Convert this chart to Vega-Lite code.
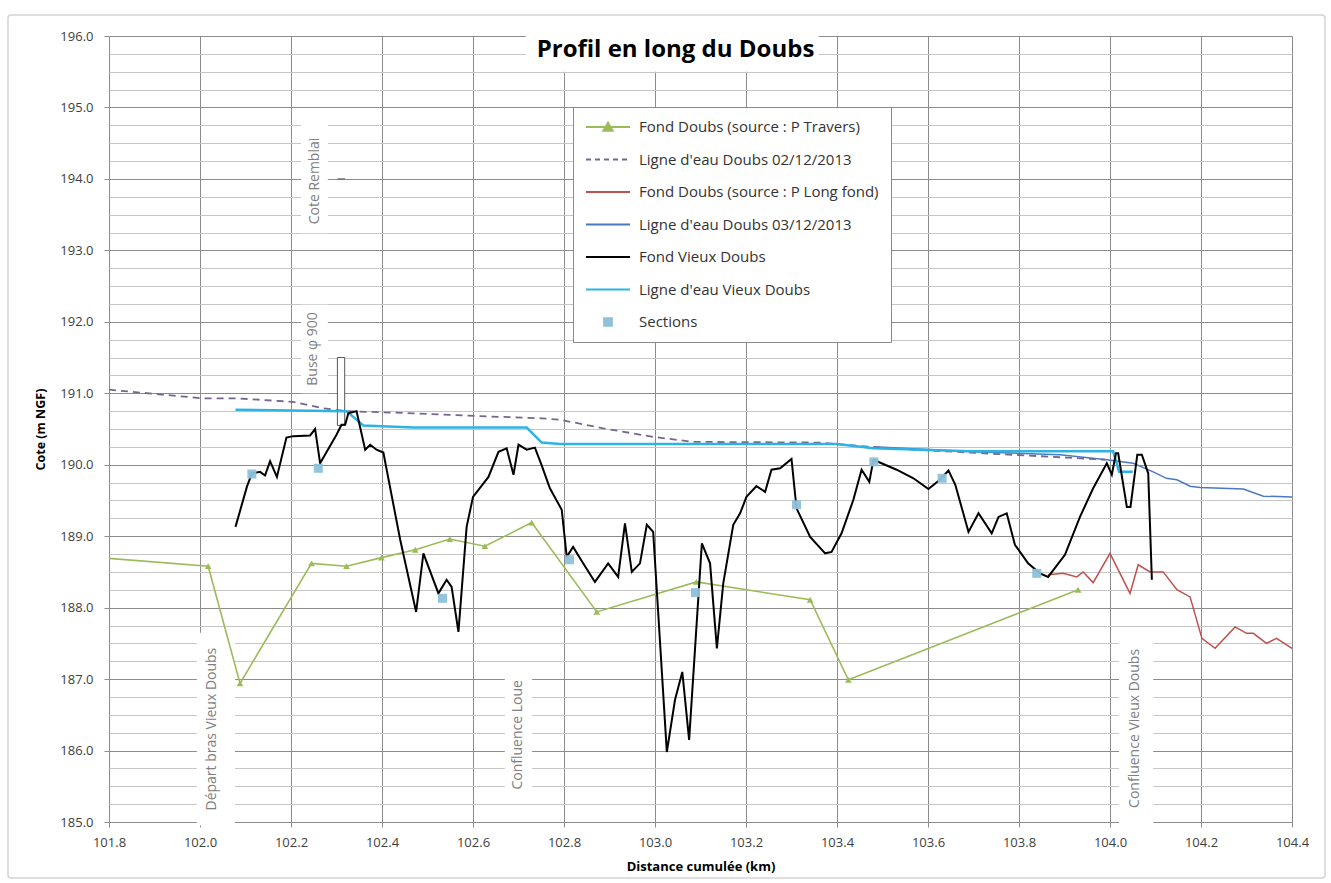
{
  "$schema": "https://vega.github.io/schema/vega-lite/v6.json",
  "width": 1183,
  "height": 786,
  "autosize": {"type": "none"},
  "padding": {"left": 109, "top": 36, "right": 39, "bottom": 61},
  "background": "white",
  "config": {"font": "Open Sans", "view": {"stroke": null}},
  "title": {"text": "Profil en long du Doubs", "font": "Open Sans", "fontSize": 24, "fontWeight": "bold", "color": "#000000", "anchor": "middle", "orient": "top", "offset": -48, "dx": -25, "zindex": 1},
  "datasets": {
    "lines": [
      {"series": "Fond Doubs (source : P Travers)", "d": 101.8, "z": 188.69},
      {"series": "Fond Doubs (source : P Travers)", "d": 102.018, "z": 188.58},
      {"series": "Fond Doubs (source : P Travers)", "d": 102.088, "z": 186.94},
      {"series": "Fond Doubs (source : P Travers)", "d": 102.245, "z": 188.62},
      {"series": "Fond Doubs (source : P Travers)", "d": 102.322, "z": 188.58},
      {"series": "Fond Doubs (source : P Travers)", "d": 102.399, "z": 188.7},
      {"series": "Fond Doubs (source : P Travers)", "d": 102.473, "z": 188.81},
      {"series": "Fond Doubs (source : P Travers)", "d": 102.549, "z": 188.96},
      {"series": "Fond Doubs (source : P Travers)", "d": 102.626, "z": 188.86},
      {"series": "Fond Doubs (source : P Travers)", "d": 102.729, "z": 189.19},
      {"series": "Fond Doubs (source : P Travers)", "d": 102.872, "z": 187.94},
      {"series": "Fond Doubs (source : P Travers)", "d": 103.091, "z": 188.36},
      {"series": "Fond Doubs (source : P Travers)", "d": 103.341, "z": 188.11},
      {"series": "Fond Doubs (source : P Travers)", "d": 103.425, "z": 186.99},
      {"series": "Fond Doubs (source : P Travers)", "d": 103.93, "z": 188.25},

      {"series": "Ligne d'eau Doubs 02/12/2013", "d": 101.8, "z": 191.05},
      {"series": "Ligne d'eau Doubs 02/12/2013", "d": 102.004, "z": 190.93},
      {"series": "Ligne d'eau Doubs 02/12/2013", "d": 102.078, "z": 190.93},
      {"series": "Ligne d'eau Doubs 02/12/2013", "d": 102.205, "z": 190.88},
      {"series": "Ligne d'eau Doubs 02/12/2013", "d": 102.271, "z": 190.79},
      {"series": "Ligne d'eau Doubs 02/12/2013", "d": 102.322, "z": 190.75},
      {"series": "Ligne d'eau Doubs 02/12/2013", "d": 102.469, "z": 190.72},
      {"series": "Ligne d'eau Doubs 02/12/2013", "d": 102.615, "z": 190.68},
      {"series": "Ligne d'eau Doubs 02/12/2013", "d": 102.751, "z": 190.65},
      {"series": "Ligne d'eau Doubs 02/12/2013", "d": 102.791, "z": 190.63},
      {"series": "Ligne d'eau Doubs 02/12/2013", "d": 102.886, "z": 190.51},
      {"series": "Ligne d'eau Doubs 02/12/2013", "d": 102.996, "z": 190.39},
      {"series": "Ligne d'eau Doubs 02/12/2013", "d": 103.084, "z": 190.32},
      {"series": "Ligne d'eau Doubs 02/12/2013", "d": 103.363, "z": 190.31},
      {"series": "Ligne d'eau Doubs 02/12/2013", "d": 103.509, "z": 190.23},
      {"series": "Ligne d'eau Doubs 02/12/2013", "d": 103.692, "z": 190.17},
      {"series": "Ligne d'eau Doubs 02/12/2013", "d": 103.905, "z": 190.1},
      {"series": "Ligne d'eau Doubs 02/12/2013", "d": 103.99, "z": 190.07},

      {"series": "Fond Doubs (source : P Long fond)", "d": 103.864, "z": 188.46},
      {"series": "Fond Doubs (source : P Long fond)", "d": 103.897, "z": 188.48},
      {"series": "Fond Doubs (source : P Long fond)", "d": 103.927, "z": 188.43},
      {"series": "Fond Doubs (source : P Long fond)", "d": 103.941, "z": 188.5},
      {"series": "Fond Doubs (source : P Long fond)", "d": 103.963, "z": 188.35},
      {"series": "Fond Doubs (source : P Long fond)", "d": 104.0, "z": 188.76},
      {"series": "Fond Doubs (source : P Long fond)", "d": 104.044, "z": 188.2},
      {"series": "Fond Doubs (source : P Long fond)", "d": 104.062, "z": 188.6},
      {"series": "Fond Doubs (source : P Long fond)", "d": 104.088, "z": 188.5},
      {"series": "Fond Doubs (source : P Long fond)", "d": 104.117, "z": 188.5},
      {"series": "Fond Doubs (source : P Long fond)", "d": 104.147, "z": 188.25},
      {"series": "Fond Doubs (source : P Long fond)", "d": 104.176, "z": 188.15},
      {"series": "Fond Doubs (source : P Long fond)", "d": 104.202, "z": 187.57},
      {"series": "Fond Doubs (source : P Long fond)", "d": 104.231, "z": 187.43},
      {"series": "Fond Doubs (source : P Long fond)", "d": 104.275, "z": 187.73},
      {"series": "Fond Doubs (source : P Long fond)", "d": 104.3, "z": 187.64},
      {"series": "Fond Doubs (source : P Long fond)", "d": 104.315, "z": 187.64},
      {"series": "Fond Doubs (source : P Long fond)", "d": 104.344, "z": 187.5},
      {"series": "Fond Doubs (source : P Long fond)", "d": 104.366, "z": 187.57},
      {"series": "Fond Doubs (source : P Long fond)", "d": 104.4, "z": 187.43},

      {"series": "Ligne d'eau Doubs 03/12/2013", "d": 103.48, "z": 190.25},
      {"series": "Ligne d'eau Doubs 03/12/2013", "d": 103.7, "z": 190.18},
      {"series": "Ligne d'eau Doubs 03/12/2013", "d": 103.89, "z": 190.14},
      {"series": "Ligne d'eau Doubs 03/12/2013", "d": 103.993, "z": 190.07},
      {"series": "Ligne d'eau Doubs 03/12/2013", "d": 104.051, "z": 190.02},
      {"series": "Ligne d'eau Doubs 03/12/2013", "d": 104.095, "z": 189.9},
      {"series": "Ligne d'eau Doubs 03/12/2013", "d": 104.124, "z": 189.81},
      {"series": "Ligne d'eau Doubs 03/12/2013", "d": 104.147, "z": 189.79},
      {"series": "Ligne d'eau Doubs 03/12/2013", "d": 104.176, "z": 189.7},
      {"series": "Ligne d'eau Doubs 03/12/2013", "d": 104.198, "z": 189.68},
      {"series": "Ligne d'eau Doubs 03/12/2013", "d": 104.293, "z": 189.66},
      {"series": "Ligne d'eau Doubs 03/12/2013", "d": 104.337, "z": 189.56},
      {"series": "Ligne d'eau Doubs 03/12/2013", "d": 104.4, "z": 189.55},

      {"series": "Fond Vieux Doubs", "d": 102.078, "z": 189.13},
      {"series": "Fond Vieux Doubs", "d": 102.103, "z": 189.69},
      {"series": "Fond Vieux Doubs", "d": 102.114, "z": 189.88},
      {"series": "Fond Vieux Doubs", "d": 102.132, "z": 189.9},
      {"series": "Fond Vieux Doubs", "d": 102.143, "z": 189.85},
      {"series": "Fond Vieux Doubs", "d": 102.154, "z": 190.05},
      {"series": "Fond Vieux Doubs", "d": 102.169, "z": 189.83},
      {"series": "Fond Vieux Doubs", "d": 102.19, "z": 190.38},
      {"series": "Fond Vieux Doubs", "d": 102.205, "z": 190.4},
      {"series": "Fond Vieux Doubs", "d": 102.242, "z": 190.41},
      {"series": "Fond Vieux Doubs", "d": 102.253, "z": 190.5},
      {"series": "Fond Vieux Doubs", "d": 102.264, "z": 190.02},
      {"series": "Fond Vieux Doubs", "d": 102.3, "z": 190.42},
      {"series": "Fond Vieux Doubs", "d": 102.311, "z": 190.56},
      {"series": "Fond Vieux Doubs", "d": 102.319, "z": 190.56},
      {"series": "Fond Vieux Doubs", "d": 102.326, "z": 190.72},
      {"series": "Fond Vieux Doubs", "d": 102.344, "z": 190.75},
      {"series": "Fond Vieux Doubs", "d": 102.363, "z": 190.21},
      {"series": "Fond Vieux Doubs", "d": 102.374, "z": 190.28},
      {"series": "Fond Vieux Doubs", "d": 102.388, "z": 190.21},
      {"series": "Fond Vieux Doubs", "d": 102.403, "z": 190.17},
      {"series": "Fond Vieux Doubs", "d": 102.44, "z": 188.95},
      {"series": "Fond Vieux Doubs", "d": 102.475, "z": 187.94},
      {"series": "Fond Vieux Doubs", "d": 102.491, "z": 188.76},
      {"series": "Fond Vieux Doubs", "d": 102.524, "z": 188.2},
      {"series": "Fond Vieux Doubs", "d": 102.542, "z": 188.39},
      {"series": "Fond Vieux Doubs", "d": 102.553, "z": 188.29},
      {"series": "Fond Vieux Doubs", "d": 102.568, "z": 187.66},
      {"series": "Fond Vieux Doubs", "d": 102.586, "z": 189.13},
      {"series": "Fond Vieux Doubs", "d": 102.6, "z": 189.55},
      {"series": "Fond Vieux Doubs", "d": 102.634, "z": 189.83},
      {"series": "Fond Vieux Doubs", "d": 102.656, "z": 190.18},
      {"series": "Fond Vieux Doubs", "d": 102.674, "z": 190.23},
      {"series": "Fond Vieux Doubs", "d": 102.689, "z": 189.86},
      {"series": "Fond Vieux Doubs", "d": 102.7, "z": 190.28},
      {"series": "Fond Vieux Doubs", "d": 102.718, "z": 190.21},
      {"series": "Fond Vieux Doubs", "d": 102.736, "z": 190.24},
      {"series": "Fond Vieux Doubs", "d": 102.751, "z": 189.99},
      {"series": "Fond Vieux Doubs", "d": 102.769, "z": 189.67},
      {"series": "Fond Vieux Doubs", "d": 102.795, "z": 189.37},
      {"series": "Fond Vieux Doubs", "d": 102.806, "z": 188.71},
      {"series": "Fond Vieux Doubs", "d": 102.82, "z": 188.85},
      {"series": "Fond Vieux Doubs", "d": 102.842, "z": 188.62},
      {"series": "Fond Vieux Doubs", "d": 102.868, "z": 188.36},
      {"series": "Fond Vieux Doubs", "d": 102.897, "z": 188.62},
      {"series": "Fond Vieux Doubs", "d": 102.919, "z": 188.43},
      {"series": "Fond Vieux Doubs", "d": 102.934, "z": 189.18},
      {"series": "Fond Vieux Doubs", "d": 102.949, "z": 188.5},
      {"series": "Fond Vieux Doubs", "d": 102.967, "z": 188.62},
      {"series": "Fond Vieux Doubs", "d": 102.982, "z": 189.16},
      {"series": "Fond Vieux Doubs", "d": 102.996, "z": 189.06},
      {"series": "Fond Vieux Doubs", "d": 103.026, "z": 185.98},
      {"series": "Fond Vieux Doubs", "d": 103.044, "z": 186.71},
      {"series": "Fond Vieux Doubs", "d": 103.06, "z": 187.1},
      {"series": "Fond Vieux Doubs", "d": 103.075, "z": 186.15},
      {"series": "Fond Vieux Doubs", "d": 103.103, "z": 188.9},
      {"series": "Fond Vieux Doubs", "d": 103.121, "z": 188.62},
      {"series": "Fond Vieux Doubs", "d": 103.136, "z": 187.43},
      {"series": "Fond Vieux Doubs", "d": 103.15, "z": 188.34},
      {"series": "Fond Vieux Doubs", "d": 103.172, "z": 189.16},
      {"series": "Fond Vieux Doubs", "d": 103.187, "z": 189.32},
      {"series": "Fond Vieux Doubs", "d": 103.201, "z": 189.55},
      {"series": "Fond Vieux Doubs", "d": 103.223, "z": 189.7},
      {"series": "Fond Vieux Doubs", "d": 103.242, "z": 189.62},
      {"series": "Fond Vieux Doubs", "d": 103.256, "z": 189.93},
      {"series": "Fond Vieux Doubs", "d": 103.275, "z": 189.95},
      {"series": "Fond Vieux Doubs", "d": 103.3, "z": 190.08},
      {"series": "Fond Vieux Doubs", "d": 103.311, "z": 189.39},
      {"series": "Fond Vieux Doubs", "d": 103.341, "z": 188.99},
      {"series": "Fond Vieux Doubs", "d": 103.374, "z": 188.76},
      {"series": "Fond Vieux Doubs", "d": 103.388, "z": 188.78},
      {"series": "Fond Vieux Doubs", "d": 103.41, "z": 189.04},
      {"series": "Fond Vieux Doubs", "d": 103.436, "z": 189.51},
      {"series": "Fond Vieux Doubs", "d": 103.454, "z": 189.93},
      {"series": "Fond Vieux Doubs", "d": 103.471, "z": 189.76},
      {"series": "Fond Vieux Doubs", "d": 103.48, "z": 190.07},
      {"series": "Fond Vieux Doubs", "d": 103.531, "z": 189.93},
      {"series": "Fond Vieux Doubs", "d": 103.568, "z": 189.81},
      {"series": "Fond Vieux Doubs", "d": 103.601, "z": 189.66},
      {"series": "Fond Vieux Doubs", "d": 103.626, "z": 189.79},
      {"series": "Fond Vieux Doubs", "d": 103.645, "z": 189.92},
      {"series": "Fond Vieux Doubs", "d": 103.66, "z": 189.72},
      {"series": "Fond Vieux Doubs", "d": 103.689, "z": 189.06},
      {"series": "Fond Vieux Doubs", "d": 103.711, "z": 189.32},
      {"series": "Fond Vieux Doubs", "d": 103.74, "z": 189.04},
      {"series": "Fond Vieux Doubs", "d": 103.755, "z": 189.27},
      {"series": "Fond Vieux Doubs", "d": 103.773, "z": 189.32},
      {"series": "Fond Vieux Doubs", "d": 103.791, "z": 188.88},
      {"series": "Fond Vieux Doubs", "d": 103.82, "z": 188.62},
      {"series": "Fond Vieux Doubs", "d": 103.846, "z": 188.48},
      {"series": "Fond Vieux Doubs", "d": 103.864, "z": 188.43},
      {"series": "Fond Vieux Doubs", "d": 103.901, "z": 188.74},
      {"series": "Fond Vieux Doubs", "d": 103.934, "z": 189.27},
      {"series": "Fond Vieux Doubs", "d": 103.963, "z": 189.67},
      {"series": "Fond Vieux Doubs", "d": 103.993, "z": 190.02},
      {"series": "Fond Vieux Doubs", "d": 104.004, "z": 189.86},
      {"series": "Fond Vieux Doubs", "d": 104.013, "z": 190.16},
      {"series": "Fond Vieux Doubs", "d": 104.018, "z": 190.16},
      {"series": "Fond Vieux Doubs", "d": 104.037, "z": 189.41},
      {"series": "Fond Vieux Doubs", "d": 104.045, "z": 189.41},
      {"series": "Fond Vieux Doubs", "d": 104.06, "z": 190.14},
      {"series": "Fond Vieux Doubs", "d": 104.07, "z": 190.14},
      {"series": "Fond Vieux Doubs", "d": 104.084, "z": 189.88},
      {"series": "Fond Vieux Doubs", "d": 104.092, "z": 188.39},

      {"series": "Ligne d'eau Vieux Doubs", "d": 102.078, "z": 190.77},
      {"series": "Ligne d'eau Vieux Doubs", "d": 102.322, "z": 190.75},
      {"series": "Ligne d'eau Vieux Doubs", "d": 102.359, "z": 190.55},
      {"series": "Ligne d'eau Vieux Doubs", "d": 102.469, "z": 190.52},
      {"series": "Ligne d'eau Vieux Doubs", "d": 102.718, "z": 190.52},
      {"series": "Ligne d'eau Vieux Doubs", "d": 102.751, "z": 190.31},
      {"series": "Ligne d'eau Vieux Doubs", "d": 102.791, "z": 190.29},
      {"series": "Ligne d'eau Vieux Doubs", "d": 103.399, "z": 190.29},
      {"series": "Ligne d'eau Vieux Doubs", "d": 103.48, "z": 190.23},
      {"series": "Ligne d'eau Vieux Doubs", "d": 103.692, "z": 190.19},
      {"series": "Ligne d'eau Vieux Doubs", "d": 104.007, "z": 190.19},
      {"series": "Ligne d'eau Vieux Doubs", "d": 104.02, "z": 189.9},
      {"series": "Ligne d'eau Vieux Doubs", "d": 104.05, "z": 189.9}
    ],
    "sections": [
      {"series": "Sections", "d": 102.114, "z": 189.87},
      {"series": "Sections", "d": 102.26, "z": 189.95},
      {"series": "Sections", "d": 102.533, "z": 188.13},
      {"series": "Sections", "d": 102.812, "z": 188.67},
      {"series": "Sections", "d": 103.089, "z": 188.21},
      {"series": "Sections", "d": 103.311, "z": 189.44},
      {"series": "Sections", "d": 103.481, "z": 190.04},
      {"series": "Sections", "d": 103.631, "z": 189.81},
      {"series": "Sections", "d": 103.839, "z": 188.48}
    ],
    "events": [
      {"d": 102.08},
      {"d": 102.75},
      {"d": 104.1}
    ],
    "frame": [
      {"d": 101.578, "d2": 104.4725, "z": 184.215, "z2": 196.294}
    ],
    "boxes": [
      {"d": 101.993, "d2": 102.077, "z": 184.95, "z2": 187.65},
      {"d": 102.67, "d2": 102.73, "z": 185.3, "z2": 187.2},
      {"d": 104.02, "d2": 104.095, "z": 184.95, "z2": 187.65},
      {"d": 102.222, "d2": 102.281, "z": 193.24, "z2": 194.78},
      {"d": 102.222, "d2": 102.281, "z": 191.0, "z2": 192.24},
      {"d": 102.716, "d2": 103.36, "z": 195.5, "z2": 196.22}
    ],
    "labels": [
      {"label": "Départ bras Vieux Doubs", "d": 102.026, "z": 186.3},
      {"label": "Confluence Loue", "d": 102.699, "z": 186.22},
      {"label": "Confluence Vieux Doubs", "d": 104.055, "z": 186.31},
      {"label": "Cote Remblai", "d": 102.253, "z": 193.97},
      {"label": "Buse φ 900", "d": 102.249, "z": 191.62}
    ],
    "buse": [
      {"d": 102.302, "d2": 102.318, "z": 190.55, "z2": 191.5}
    ],
    "remblai": [
      {"d": 102.302, "d2": 102.319, "z": 194.0}
    ]
  },
  "encoding": {
    "x": {
      "field": "d", "type": "quantitative",
      "scale": {"domain": [101.8, 104.4], "nice": false, "zero": false},
      "axis": {
        "values": [101.8, 102, 102.2, 102.4, 102.6, 102.8, 103, 103.2, 103.4, 103.6, 103.8, 104, 104.2, 104.4],
        "format": ".1f", "labelFlush": false, "labelOverlap": false,
        "grid": true, "gridColor": "#8c8c8c", "gridWidth": 1,
        "domain": false, "tickSize": 5, "tickColor": "#8c8c8c",
        "labelFont": "Open Sans", "labelFontSize": 13, "labelColor": "#404040", "labelPadding": 9,
        "title": "Distance cumulée (km)", "titleFont": "Open Sans", "titleFontSize": 13, "titleFontWeight": "bold", "titleColor": "#000000", "titlePadding": 11
      }
    },
    "y": {
      "field": "z", "type": "quantitative",
      "scale": {"domain": [185, 196], "nice": false, "zero": false},
      "axis": {
        "values": [185, 185.25, 185.5, 185.75, 186, 186.25, 186.5, 186.75, 187, 187.25, 187.5, 187.75, 188, 188.25, 188.5, 188.75, 189, 189.25, 189.5, 189.75, 190, 190.25, 190.5, 190.75, 191, 191.25, 191.5, 191.75, 192, 192.25, 192.5, 192.75, 193, 193.25, 193.5, 193.75, 194, 194.25, 194.5, 194.75, 195, 195.25, 195.5, 195.75, 196],
        "labelExpr": "datum.value % 1 === 0 ? format(datum.value, '.1f') : ''",
        "labelFlush": false, "labelOverlap": false,
        "grid": true,
        "gridColor": {"condition": {"test": "datum.value % 1 === 0", "value": "#8c8c8c"}, "value": "#c6c6c6"},
        "gridWidth": 1,
        "domain": false, "tickSize": 5, "tickColor": "#8c8c8c",
        "tickOpacity": {"condition": {"test": "datum.value % 1 === 0", "value": 1}, "value": 0},
        "labelFont": "Open Sans", "labelFontSize": 13, "labelColor": "#404040", "labelPadding": 11,
        "title": "Cote (m NGF)", "titleFont": "Open Sans", "titleFontSize": 12.5, "titleFontWeight": "bold", "titleColor": "#000000", "titlePadding": 12
      }
    }
  },
  "layer": [
    {
      "data": {"name": "frame"},
      "mark": {"type": "rect", "filled": false, "stroke": "#d4d4d4", "strokeWidth": 1.5, "cornerRadius": 3},
      "encoding": {
        "x": {"field": "d", "type": "quantitative"},
        "x2": {"field": "d2"},
        "y": {"field": "z", "type": "quantitative"},
        "y2": {"field": "z2"}
      }
    },
    {
      "data": {"name": "events"},
      "mark": {"type": "rule", "color": "#3a3a3a", "strokeWidth": 1.6},
      "encoding": {"x": {"field": "d", "type": "quantitative"}, "y": {"datum": 185}, "y2": {"datum": 196}}
    },
    {
      "data": {"name": "boxes"},
      "mark": {"type": "rect", "fill": "white", "stroke": null},
      "encoding": {
        "x": {"field": "d", "type": "quantitative"},
        "x2": {"field": "d2"},
        "y": {"field": "z", "type": "quantitative"},
        "y2": {"field": "z2"}
      }
    },
    {
      "data": {"name": "buse"},
      "mark": {"type": "rect", "fill": "white", "stroke": "#555555", "strokeWidth": 1},
      "encoding": {
        "x": {"field": "d", "type": "quantitative"},
        "x2": {"field": "d2"},
        "y": {"field": "z", "type": "quantitative"},
        "y2": {"field": "z2"}
      }
    },
    {
      "data": {"name": "remblai"},
      "mark": {"type": "rule", "color": "#555555", "strokeWidth": 1},
      "encoding": {
        "x": {"field": "d", "type": "quantitative"},
        "x2": {"field": "d2"},
        "y": {"field": "z", "type": "quantitative"}
      }
    },
    {
      "data": {"name": "labels"},
      "mark": {"type": "text", "angle": 270, "align": "center", "baseline": "middle", "font": "Open Sans", "fontSize": 14, "color": "#808080"},
      "encoding": {"text": {"field": "label", "type": "nominal"}}
    },
    {
      "data": {"name": "lines"},
      "transform": [{"filter": "datum.series === 'Fond Doubs (source : P Travers)'"}],
      "mark": {"type": "line", "strokeWidth": 1.6},
      "encoding": {
        "color": {
          "field": "series", "type": "nominal",
          "scale": {
            "domain": ["Fond Doubs (source : P Travers)", "Ligne d'eau Doubs 02/12/2013", "Fond Doubs (source : P Long fond)", "Ligne d'eau Doubs 03/12/2013", "Fond Vieux Doubs", "Ligne d'eau Vieux Doubs", "Sections"],
            "range": ["#9BBB59", "#76668F", "#C0504D", "#4A78C2", "#000000", "#2DB3E3", "#8EC1DA"]
          },
          "legend": {
            "orient": "none", "legendX": 464, "legendY": 71, "title": null,
            "fillColor": "white", "strokeColor": "#8a8a8a", "padding": 12,
            "symbolType": "stroke", "symbolSize": 1936, "symbolStrokeWidth": 1.8,
            "clipHeight": 16, "rowPadding": 16.5,
            "labelFont": "Open Sans", "labelFontSize": 15, "labelColor": "#333333", "labelOffset": 8, "labelLimit": 400,
            "encode": {
              "symbols": {
                "update": {
                  "shape": {"signal": "datum.value === 'Sections' ? 'M-0.18,-0.18L0.18,-0.18L0.18,0.18L-0.18,0.18Z' : (datum.value === 'Fond Doubs (source : P Travers)' ? 'M-1,0L1,0M0,-0.2L0.22,0.18L-0.22,0.18Z' : 'stroke')"},
                  "strokeDash": {"signal": "indexof(datum.value, '02/12') >= 0 ? [5, 4] : [1, 0]"},
                  "fill": {"signal": "datum.value === 'Sections' ? '#8EC1DA' : (datum.value === 'Fond Doubs (source : P Travers)' ? '#9BBB59' : 'transparent')"}
                }
              }
            }
          }
        }
      }
    },
    {
      "data": {"name": "lines"},
      "transform": [{"filter": "datum.series === 'Fond Doubs (source : P Travers)' && datum.d > 101.81"}],
      "mark": {"type": "point", "shape": "triangle-up", "filled": true, "size": 45, "opacity": 1},
      "encoding": {"color": {"field": "series", "type": "nominal"}}
    },
    {
      "data": {"name": "lines"},
      "transform": [{"filter": "datum.series === 'Fond Doubs (source : P Long fond)'"}],
      "mark": {"type": "line", "strokeWidth": 1.5},
      "encoding": {"color": {"field": "series", "type": "nominal"}}
    },
    {
      "data": {"name": "lines"},
      "transform": [{"filter": "datum.series === 'Ligne d\\'eau Doubs 03/12/2013'"}],
      "mark": {"type": "line", "strokeWidth": 1.5},
      "encoding": {"color": {"field": "series", "type": "nominal"}}
    },
    {
      "data": {"name": "lines"},
      "transform": [{"filter": "datum.series === 'Ligne d\\'eau Doubs 02/12/2013'"}],
      "mark": {"type": "line", "strokeWidth": 1.8, "strokeDash": [7, 5]},
      "encoding": {"color": {"field": "series", "type": "nominal"}}
    },
    {
      "data": {"name": "lines"},
      "transform": [{"filter": "datum.series === 'Ligne d\\'eau Vieux Doubs'"}],
      "mark": {"type": "line", "strokeWidth": 2.5},
      "encoding": {"color": {"field": "series", "type": "nominal"}}
    },
    {
      "data": {"name": "lines"},
      "transform": [{"filter": "datum.series === 'Fond Vieux Doubs'"}],
      "mark": {"type": "line", "strokeWidth": 2},
      "encoding": {"color": {"field": "series", "type": "nominal"}}
    },
    {
      "data": {"name": "sections"},
      "mark": {"type": "point", "shape": "square", "filled": true, "size": 81, "opacity": 0.95},
      "encoding": {"color": {"field": "series", "type": "nominal"}}
    }
  ]
}
